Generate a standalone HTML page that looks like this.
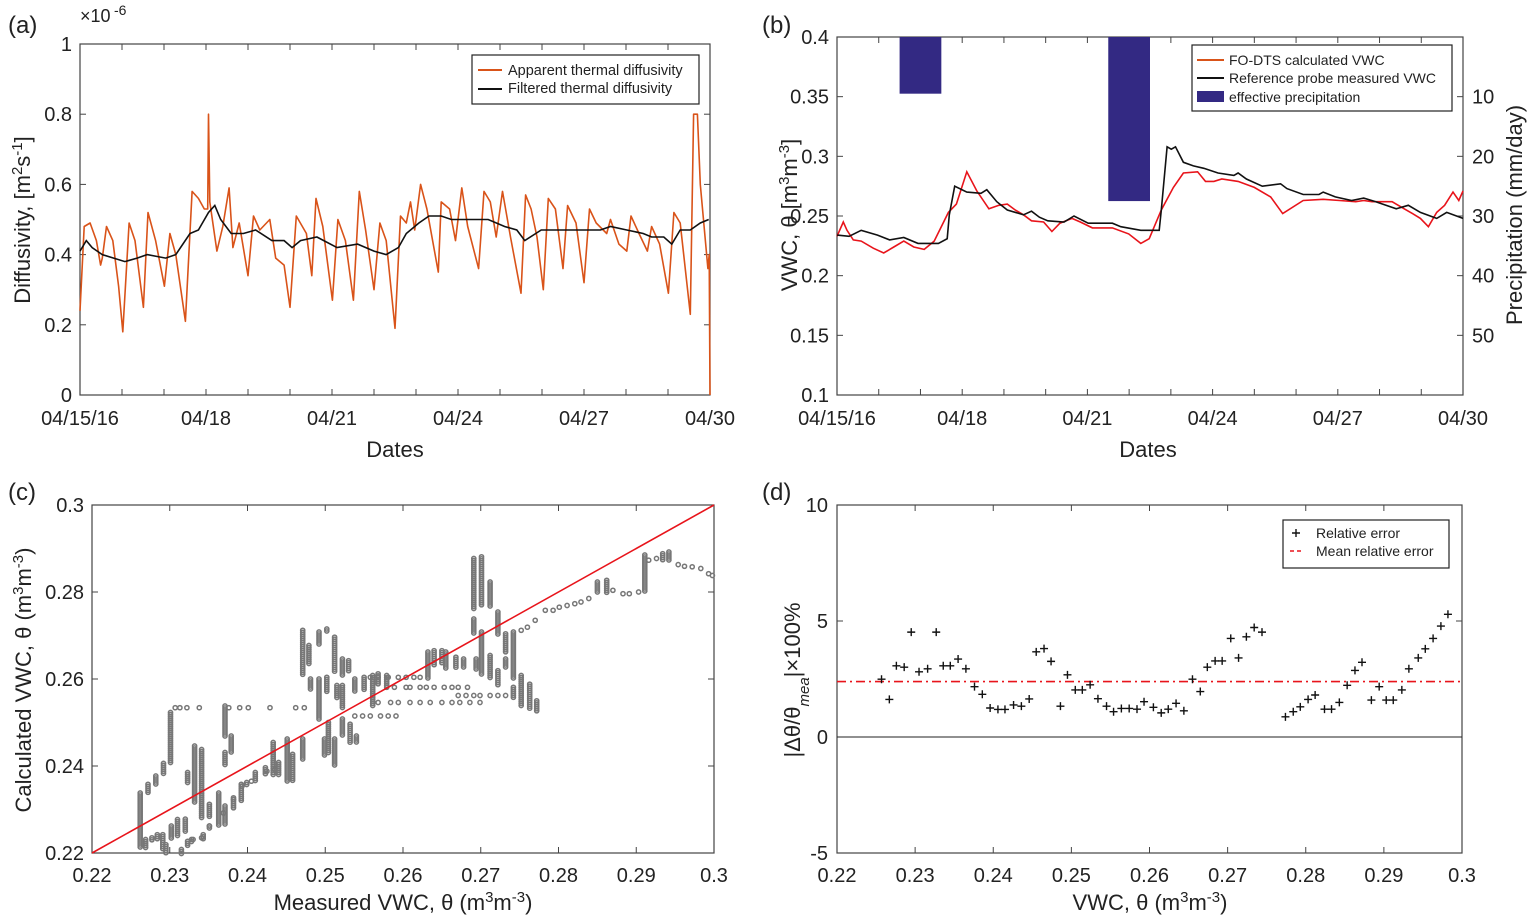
<!DOCTYPE html>
<html><head><meta charset="utf-8"><style>
html,body{margin:0;padding:0;background:#fff;}
svg{display:block;font-family:"Liberation Sans",Arial,sans-serif;}
</style></head><body>
<svg id="fig" width="1535" height="923" viewBox="0 0 1535 923" xmlns="http://www.w3.org/2000/svg">
<g id="gA"></g>
<g id="gB"></g>
<g id="gC"></g>
<g id="gD"></g>
</svg>
<script>
// ---------- Panel (a) data ----------
const aDaysApp=[0,0.10,0.24,0.39,0.49,0.53,0.63,0.78,0.92,1.02,1.17,1.31,1.51,1.62,1.80,2.01,2.14,2.28,2.51,2.67,2.82,2.96,3.04,3.06,3.09,3.26,3.40,3.55,3.64,3.79,4.00,4.13,4.28,4.52,4.66,4.86,5.00,5.15,5.39,5.52,5.62,5.78,6.01,6.14,6.32,6.51,6.65,6.80,7.00,7.14,7.29,7.50,7.63,7.77,7.87,7.97,8.11,8.26,8.53,8.60,8.80,8.94,9.09,9.23,9.49,9.62,9.77,9.91,10.06,10.25,10.50,10.61,10.74,10.88,11.03,11.15,11.32,11.50,11.61,11.81,12.00,12.13,12.29,12.54,12.63,12.83,13.02,13.12,13.31,13.51,13.61,13.80,14.01,14.14,14.29,14.53,14.61,14.70,14.77,14.95,14.98,15.0];
const aApparent=[0.24,0.48,0.49,0.44,0.37,0.39,0.48,0.44,0.31,0.18,0.49,0.44,0.25,0.52,0.44,0.31,0.46,0.40,0.21,0.58,0.56,0.53,0.53,0.80,0.55,0.41,0.48,0.59,0.42,0.49,0.34,0.51,0.47,0.50,0.39,0.37,0.25,0.51,0.46,0.34,0.56,0.48,0.27,0.50,0.44,0.27,0.58,0.47,0.30,0.49,0.44,0.19,0.51,0.49,0.55,0.47,0.60,0.53,0.35,0.55,0.53,0.44,0.59,0.48,0.36,0.58,0.55,0.45,0.58,0.45,0.29,0.57,0.53,0.45,0.30,0.56,0.53,0.36,0.54,0.49,0.32,0.53,0.49,0.46,0.50,0.43,0.41,0.51,0.46,0.41,0.48,0.43,0.29,0.52,0.49,0.23,0.80,0.80,0.60,0.36,0.40,0.0];
const aDaysFilt=[0,0.15,0.29,0.53,1.07,1.36,1.60,2.04,2.28,2.62,2.82,3.06,3.21,3.35,3.60,3.89,4.18,4.57,4.86,5.05,5.25,5.64,6.12,6.61,7.00,7.29,7.58,7.77,8.07,8.31,8.60,8.84,9.23,9.72,10.11,10.40,10.59,10.98,11.66,12.10,12.39,12.63,13.02,13.41,13.61,13.90,14.09,14.29,14.53,14.77,14.97];
const aFiltered=[0.41,0.44,0.42,0.40,0.38,0.39,0.40,0.39,0.40,0.46,0.47,0.52,0.54,0.50,0.46,0.46,0.47,0.44,0.44,0.42,0.44,0.45,0.42,0.43,0.41,0.40,0.42,0.46,0.49,0.51,0.51,0.50,0.50,0.50,0.48,0.47,0.44,0.47,0.47,0.47,0.47,0.48,0.47,0.46,0.45,0.45,0.43,0.47,0.47,0.49,0.50];
const aYTicks=[0,0.2,0.4,0.6,0.8,1];
const aYTickLabels=["0","0.2","0.4","0.6","0.8","1"];
const dateTicks=[0,3,6,9,12,15];
const dateTickLabels=["04/15/16","04/18","04/21","04/24","04/27","04/30"];

// ---------- Panel (b) data ----------
const bDaysFO=[0,0.15,0.24,0.39,0.58,0.87,1.12,1.36,1.60,1.84,2.09,2.33,2.67,2.86,3.11,3.35,3.64,3.88,4.08,4.27,4.47,4.66,4.95,5.15,5.34,5.63,5.83,6.12,6.60,6.99,7.28,7.48,7.77,8.06,8.30,8.64,8.83,9.03,9.22,9.61,10.0,10.39,10.68,11.17,11.65,12.04,12.43,12.62,12.82,13.30,13.59,13.79,13.98,14.17,14.37,14.56,14.76,14.90,15.0];
const bFO=[0.233,0.245,0.238,0.230,0.229,0.223,0.219,0.224,0.229,0.224,0.222,0.229,0.253,0.260,0.287,0.271,0.256,0.259,0.260,0.255,0.251,0.246,0.245,0.237,0.244,0.248,0.245,0.240,0.240,0.235,0.227,0.231,0.255,0.274,0.286,0.287,0.279,0.279,0.281,0.279,0.274,0.266,0.252,0.263,0.264,0.263,0.262,0.263,0.262,0.262,0.256,0.252,0.248,0.241,0.253,0.259,0.270,0.263,0.271];
const bDaysRef=[0,0.29,0.58,0.97,1.26,1.60,1.94,2.43,2.64,2.69,2.82,3.11,3.45,3.59,3.83,4.08,4.47,4.66,4.85,5.05,5.44,5.68,6.02,6.60,6.80,7.28,7.72,7.77,7.91,8.01,8.11,8.30,8.54,8.79,9.13,9.51,9.61,9.81,10.19,10.63,10.78,11.17,11.55,11.65,11.94,12.33,12.62,12.91,13.40,13.69,13.98,14.37,14.61,15.0];
const bRef=[0.234,0.233,0.238,0.234,0.230,0.232,0.227,0.227,0.231,0.251,0.275,0.270,0.269,0.272,0.262,0.255,0.251,0.254,0.249,0.246,0.245,0.250,0.244,0.244,0.241,0.238,0.238,0.255,0.308,0.306,0.308,0.295,0.292,0.290,0.286,0.284,0.286,0.281,0.275,0.277,0.273,0.268,0.268,0.270,0.266,0.263,0.265,0.262,0.256,0.259,0.253,0.248,0.253,0.248];
const precipStart=[1.5,6.5];
const precipEnd=[2.5,7.5];
const precipValue=[9.5,27.5];
const bYTicks=[0.1,0.15,0.2,0.25,0.3,0.35,0.4];
const bYTickLabels=["0.1","0.15","0.2","0.25","0.3","0.35","0.4"];
const bRTicks=[10,20,30,40,50];
const bRTickLabels=["10","20","30","40","50"];

// ---------- Panel (c) data ----------
const cRunX=[0.2262,0.2272,0.2282,0.2292,0.2301,0.2269,0.2277,0.2284,0.2291,0.2295,0.2302,0.2310,0.2315,0.2320,0.2323,0.2328,0.2323,0.2332,0.2341,0.2343,0.2351,0.2351,0.2363,0.2371,0.2371,0.2371,0.2379,0.2382,0.2392,0.2399,0.2410,0.2423,0.2433,0.2440,0.2451,0.2458,0.2471,0.2471,0.2479,0.2481,0.2492,0.2492,0.2499,0.2502,0.2502,0.2504,0.2512,0.2512,0.2515,0.2522,0.2522,0.2522,0.2530,0.2532,0.2538,0.2540,0.2550,0.2561,0.2568,0.2579,0.2632,0.2640,0.2650,0.2655,0.2668,0.2678,0.2691,0.2691,0.2694,0.2701,0.2701,0.2712,0.2712,0.2722,0.2722,0.2732,0.2732,0.2742,0.2742,0.2752,0.2763,0.2772,0.2850,0.2862,0.2911,0.2934,0.2942];
const cRunLow=[0.2212,0.2338,0.2358,0.2381,0.2408,0.2212,0.2227,0.2231,0.2208,0.2200,0.2231,0.2238,0.2196,0.2250,0.2215,0.2223,0.2358,0.2315,0.2281,0.2231,0.2281,0.2254,0.2262,0.2469,0.2400,0.2265,0.2431,0.2300,0.2319,0.2354,0.2365,0.2381,0.2377,0.2377,0.2362,0.2365,0.2608,0.2415,0.2635,0.2573,0.2677,0.2508,0.2423,0.2708,0.2569,0.2431,0.2615,0.2400,0.2554,0.2608,0.2531,0.2469,0.2619,0.2454,0.2569,0.2454,0.2573,0.2538,0.2585,0.2585,0.2600,0.2631,0.2635,0.2623,0.2627,0.2627,0.2762,0.2704,0.2623,0.2769,0.2608,0.2765,0.2600,0.2700,0.2585,0.2662,0.2627,0.2600,0.2554,0.2538,0.2531,0.2527,0.2798,0.2798,0.2798,0.2873,0.2873];
const cRunHigh=[0.2338,0.2358,0.2377,0.2406,0.2523,0.2231,0.2235,0.2242,0.2242,0.2219,0.2262,0.2277,0.2208,0.2278,0.2227,0.2231,0.2385,0.2446,0.2438,0.2242,0.2312,0.2262,0.2338,0.2538,0.2431,0.2308,0.2469,0.2327,0.2358,0.2362,0.2385,0.2396,0.2454,0.2408,0.2462,0.2427,0.2712,0.2462,0.2677,0.2600,0.2708,0.2600,0.2462,0.2715,0.2604,0.2500,0.2696,0.2462,0.2585,0.2646,0.2585,0.2508,0.2642,0.2496,0.2600,0.2469,0.2604,0.2608,0.2612,0.2608,0.2662,0.2665,0.2665,0.2662,0.2650,0.2646,0.2877,0.2738,0.2646,0.2881,0.2708,0.2823,0.2654,0.2754,0.2619,0.2704,0.2646,0.2708,0.2581,0.2608,0.2588,0.2550,0.2823,0.2827,0.2885,0.2888,0.2892];
const cPtX=[0.2307,0.2313,0.2322,0.2338,0.2376,0.2390,0.2401,0.2429,0.2462,0.2473,0.2558,0.2568,0.2581,0.2594,0.2604,0.2614,0.2622,0.2579,0.2589,0.2604,0.2609,0.2622,0.2630,0.2640,0.2653,0.2663,0.2671,0.2683,0.2671,0.2681,0.2691,0.2699,0.2712,0.2722,0.2732,0.2568,0.2584,0.2594,0.2609,0.2622,0.2635,0.2650,0.2663,0.2673,0.2686,0.2699,0.2538,0.2548,0.2558,0.2571,0.2581,0.2591,0.2752,0.2760,0.2770,0.2783,0.2793,0.2801,0.2811,0.2821,0.2829,0.2839,0.2870,0.2883,0.2891,0.2903,0.2916,0.2926,0.2954,0.2962,0.2972,0.2983,0.2993,0.2998,0.2330,0.2341,0.2351,0.2369,0.2382,0.2393,0.2405,0.2425,0.2435];
const cPtY=[0.2534,0.2534,0.2534,0.2534,0.2534,0.2534,0.2534,0.2534,0.2534,0.2534,0.2604,0.2604,0.2604,0.2604,0.2604,0.2604,0.2604,0.2581,0.2581,0.2581,0.2581,0.2581,0.2581,0.2581,0.2581,0.2581,0.2581,0.2581,0.2562,0.2562,0.2562,0.2562,0.2562,0.2562,0.2562,0.2546,0.2546,0.2546,0.2546,0.2546,0.2546,0.2546,0.2546,0.2546,0.2546,0.2546,0.2515,0.2515,0.2515,0.2515,0.2515,0.2515,0.2712,0.2719,0.2735,0.2758,0.2758,0.2765,0.2769,0.2773,0.2777,0.2785,0.2804,0.2796,0.2796,0.2800,0.2873,0.2877,0.2863,0.2859,0.2858,0.2854,0.2842,0.2838,0.2231,0.2235,0.2262,0.2292,0.2323,0.2354,0.2365,0.2388,0.2392];
const cTicksX=[0.22,0.23,0.24,0.25,0.26,0.27,0.28,0.29,0.3];
const cTickLabelsX=["0.22","0.23","0.24","0.25","0.26","0.27","0.28","0.29","0.3"];
const cTicksY=[0.22,0.24,0.26,0.28,0.3];
const cTickLabelsY=["0.22","0.24","0.26","0.28","0.3"];

// ---------- Panel (d) data ----------
const dVWC=[0.2257,0.2267,0.2276,0.2286,0.2295,0.2305,0.2316,0.2327,0.2336,0.2345,0.2355,0.2365,0.2376,0.2386,0.2396,0.2406,0.2415,0.2426,0.2436,0.2446,0.2455,0.2465,0.2474,0.2486,0.2495,0.2505,0.2514,0.2524,0.2534,0.2545,0.2554,0.2564,0.2574,0.2584,0.2593,0.2605,0.2615,0.2624,0.2634,0.2644,0.2655,0.2665,0.2674,0.2684,0.2693,0.2704,0.2714,0.2724,0.2734,0.2744,0.2774,0.2784,0.2793,0.2803,0.2812,0.2824,0.2833,0.2843,0.2853,0.2863,0.2872,0.2884,0.2894,0.2903,0.2912,0.2923,0.2932,0.2944,0.2953,0.2963,0.2973,0.2982];
const dErr=[2.49,1.62,3.07,3.01,4.52,2.81,2.94,4.52,3.07,3.07,3.36,2.94,2.17,1.84,1.25,1.19,1.19,1.38,1.33,1.64,3.67,3.81,3.26,1.33,2.68,2.03,2.03,2.25,1.65,1.33,1.09,1.23,1.23,1.20,1.52,1.28,1.04,1.20,1.45,1.13,2.49,1.96,3.01,3.28,3.28,4.25,3.41,4.32,4.72,4.52,0.87,1.09,1.30,1.62,1.81,1.20,1.20,1.49,2.23,2.87,3.22,1.59,2.17,1.59,1.59,2.03,2.94,3.41,3.80,4.25,4.78,5.29];
const dMean=[2.39];
const dTicksY=[-5,0,5,10];
const dTickLabelsY=["-5","0","5","10"];

// ---------- helpers ----------
const NS="http://www.w3.org/2000/svg";
function mk(parent,tag,attrs,text){const e=document.createElementNS(NS,tag);for(const k in attrs)e.setAttribute(k,attrs[k]);if(text!==undefined)e.textContent=text;parent.appendChild(e);return e;}
function lin(d0,d1,r0,r1){return v=>r0+(v-d0)/(d1-d0)*(r1-r0);}
function pathFrom(xs,ys,sx,sy){return xs.map((x,i)=>(i?"L":"M")+sx(x).toFixed(1)+","+sy(ys[i]).toFixed(1)).join("");}
function frame(g,x0,y0,x1,y1,xt,yt,rt){
  const f=mk(g,"rect",{x:x0,y:y0,width:x1-x0,height:y1-y0,fill:"none",stroke:"#444","stroke-width":1.2});
  
  
  xt.forEach(x=>{mk(g,"line",{x1:x,y1:y1,x2:x,y2:y1-6,stroke:"#444"});mk(g,"line",{x1:x,y1:y0,x2:x,y2:y0+6,stroke:"#444"});});
  yt.forEach(y=>{mk(g,"line",{x1:x0,y1:y,x2:x0+6,y2:y,stroke:"#444"});if(!rt)mk(g,"line",{x1:x1,y1:y,x2:x1-6,y2:y,stroke:"#444"});});
  if(rt)rt.forEach(y=>mk(g,"line",{x1:x1,y1:y,x2:x1-6,y2:y,stroke:"#444"}));
}
function txt(g,x,y,s,size,anchor,name,extra){const t=mk(g,"text",Object.assign({x:x,y:y,"font-size":size,"text-anchor":anchor||"middle",fill:"#222"},extra||{}),s);return t;}

// ---------- Panel A ----------
(function(){
const g=document.getElementById("gA");
const X0=80,X1=710,Y0=44,Y1=395;
const sx=lin(0,15,X0,X1), sy=lin(0,1,Y1,Y0);
const days=[];for(let d=0;d<=15;d++)days.push(d);
frame(g,X0,Y0,X1,Y1,days.map(sx),aYTicks.map(sy));
const p1=mk(g,"path",{d:pathFrom(aDaysApp,aApparent,sx,sy),fill:"none",stroke:"#D95319","stroke-width":1.6,"stroke-linejoin":"round"});


const p2=mk(g,"path",{d:pathFrom(aDaysFilt,aFiltered,sx,sy),fill:"none",stroke:"#111","stroke-width":1.6});


aYTicks.forEach((v,i)=>txt(g,72,sy(v)+7,aYTickLabels[i],20,"end","y-tick-label"));
dateTicks.forEach((v,i)=>txt(g,sx(v),425,dateTickLabels[i],20,"middle","x-tick-label"));
txt(g,8,33,"(a)",24,"start","panel-label");
txt(g,80,22,"×10",18,"start","y-exponent");
txt(g,114,15,"-6",14,"start","y-exponent-power");
txt(g,395,457,"Dates",22,"middle","x-axis-title");
const yt=txt(g,0,0,"",22,"middle","y-axis-title",{transform:"translate(30,220) rotate(-90)"});
yt.innerHTML='Diffusivity, [m<tspan baseline-shift="super" font-size="15">2</tspan>s<tspan baseline-shift="super" font-size="15">-1</tspan>]';
const lg=mk(g,"g",{});


mk(lg,"rect",{x:472,y:55,width:227,height:49,fill:"#fff",stroke:"#222","stroke-width":1.2});
mk(lg,"line",{x1:478,y1:70,x2:502,y2:70,stroke:"#D95319","stroke-width":2});
mk(lg,"line",{x1:478,y1:89,x2:502,y2:89,stroke:"#111","stroke-width":2});
txt(lg,508,75,"Apparent thermal diffusivity",14.5,"start","legend-entry-apparent");
txt(lg,508,93,"Filtered thermal diffusivity",14.5,"start","legend-entry-filtered");
})();

// ---------- Panel B ----------
(function(){
const g=document.getElementById("gB");
const X0=837,X1=1463,Y0=37,Y1=395;
const sx=lin(0,15,X0,X1), sy=lin(0.1,0.4,Y1,Y0), sr=lin(0,60,Y0,Y1);
const days=[];for(let d=0;d<=15;d++)days.push(d);
frame(g,X0,Y0,X1,Y1,days.map(sx),bYTicks.map(sy),bRTicks.map(sr));
precipValue.forEach((v,i)=>{
  const r=mk(g,"rect",{x:sx(precipStart[i]),y:Y0,width:sx(precipEnd[i])-sx(precipStart[i]),height:sr(v)-Y0,fill:"#332983"});
  
  
});
const p1=mk(g,"path",{d:pathFrom(bDaysFO,bFO,sx,sy),fill:"none",stroke:"#E8141B","stroke-width":1.6});


const p2=mk(g,"path",{d:pathFrom(bDaysRef,bRef,sx,sy),fill:"none",stroke:"#111","stroke-width":1.6});


bYTicks.forEach((v,i)=>txt(g,829,sy(v)+7,bYTickLabels[i],20,"end","y-tick-label"));
bRTicks.forEach((v,i)=>txt(g,1472,sr(v)+7,bRTickLabels[i],20,"start","right-tick-label"));
dateTicks.forEach((v,i)=>txt(g,sx(v),425,dateTickLabels[i],20,"middle","x-tick-label"));
txt(g,762,33,"(b)",24,"start","panel-label");
txt(g,1148,457,"Dates",22,"middle","x-axis-title");
const yt=txt(g,0,0,"",22,"middle","y-axis-title",{transform:"translate(797,215) rotate(-90)"});
yt.innerHTML='VWC, θ [m<tspan baseline-shift="super" font-size="15">3</tspan>m<tspan baseline-shift="super" font-size="15">-3</tspan>]';
txt(g,0,0,"Precipitation (mm/day)",22,"middle","right-axis-title",{transform:"translate(1522,215) rotate(-90)"});
const lg=mk(g,"g",{});


mk(lg,"rect",{x:1192,y:45,width:260,height:66,fill:"#fff",stroke:"#222","stroke-width":1.2});
mk(lg,"line",{x1:1197,y1:60,x2:1224,y2:60,stroke:"#D95319","stroke-width":2});
mk(lg,"line",{x1:1197,y1:78,x2:1224,y2:78,stroke:"#111","stroke-width":2});
mk(lg,"rect",{x:1197,y:91,width:27,height:11,fill:"#332983"});
txt(lg,1229,65,"FO-DTS calculated VWC",14,"start","legend-entry-fo-dts");
txt(lg,1229,83,"Reference probe measured VWC",14,"start","legend-entry-reference");
txt(lg,1229,102,"effective precipitation",14,"start","legend-entry-precip");
})();

// ---------- Panel C ----------
(function(){
const g=document.getElementById("gC");
const X0=92,X1=714,Y0=505,Y1=853;
const sx=lin(0.22,0.3,X0,X1), sy=lin(0.22,0.3,Y1,Y0);
frame(g,X0,Y0,X1,Y1,cTicksX.map(sx),cTicksY.map(sy));
const pts=mk(g,"g",{fill:"none",stroke:"#777","stroke-width":1.5});


cRunX.forEach((x,i)=>{
  const ya=sy(cRunHigh[i]), yb=sy(cRunLow[i]);
  for(let y=ya;y<=yb+0.1;y+=2.0){const c=mk(pts,"circle",{cx:sx(x).toFixed(1),cy:y.toFixed(1),r:2.1});
  
  }
});
cPtX.forEach((x,i)=>{const c=mk(pts,"circle",{cx:sx(x).toFixed(1),cy:sy(cPtY[i]).toFixed(1),r:2.1});
  
  });
const l=mk(g,"line",{x1:sx(0.22),y1:sy(0.22),x2:sx(0.3),y2:sy(0.3),stroke:"#E8141B","stroke-width":1.6});


cTicksY.forEach((v,i)=>txt(g,84,sy(v)+7,cTickLabelsY[i],20,"end","y-tick-label"));
cTicksX.forEach((v,i)=>txt(g,sx(v),882,cTickLabelsX[i],20,"middle","x-tick-label"));
txt(g,8,500,"(c)",24,"start","panel-label");
const xt=txt(g,403,910,"",22,"middle","x-axis-title");
xt.innerHTML='Measured VWC, θ (m<tspan baseline-shift="super" font-size="15">3</tspan>m<tspan baseline-shift="super" font-size="15">-3</tspan>)';
const yt=txt(g,0,0,"",22,"middle","y-axis-title",{transform:"translate(31,680) rotate(-90)"});
yt.innerHTML='Calculated VWC, θ (m<tspan baseline-shift="super" font-size="15">3</tspan>m<tspan baseline-shift="super" font-size="15">-3</tspan>)';
})();

// ---------- Panel D ----------
(function(){
const g=document.getElementById("gD");
const X0=837,X1=1462,Y0=505,Y1=853;
const sx=lin(0.22,0.3,X0,X1), sy=lin(-5,10,Y1,Y0);
frame(g,X0,Y0,X1,Y1,cTicksX.map(sx),dTicksY.map(sy));
const z=mk(g,"line",{x1:X0,y1:sy(0),x2:X1,y2:sy(0),stroke:"#222","stroke-width":1});


const m=mk(g,"line",{x1:X0,y1:sy(dMean[0]),x2:X1,y2:sy(dMean[0]),stroke:"#E8141B","stroke-width":1.6,"stroke-dasharray":"9,4,2,4"});


const pg=mk(g,"g",{stroke:"#111","stroke-width":1.4});


dVWC.forEach((x,i)=>{const cx=sx(x),cy=sy(dErr[i]);
  const p=mk(pg,"path",{d:`M${cx-4},${cy}H${cx+4}M${cx},${cy-4}V${cy+4}`});
  
  });
dTicksY.forEach((v,i)=>txt(g,828,sy(v)+7,dTickLabelsY[i],20,"end","y-tick-label"));
cTicksX.forEach((v,i)=>txt(g,sx(v),882,cTickLabelsX[i],20,"middle","x-tick-label"));
txt(g,762,500,"(d)",24,"start","panel-label");
const xt=txt(g,1150,910,"",22,"middle","x-axis-title");
xt.innerHTML='VWC, θ (m<tspan baseline-shift="super" font-size="15">3</tspan>m<tspan baseline-shift="super" font-size="15">-3</tspan>)';
const yt=txt(g,0,0,"",22,"middle","y-axis-title",{transform:"translate(800,680) rotate(-90)"});
yt.innerHTML='|Δθ/θ<tspan baseline-shift="sub" font-size="15" font-style="italic">mea</tspan>|×100%';
const lg=mk(g,"g",{});


mk(lg,"rect",{x:1283,y:520,width:166,height:48,fill:"#fff",stroke:"#222","stroke-width":1.2});
mk(lg,"path",{d:"M1292,533H1300M1296,529V537",stroke:"#111","stroke-width":1.4});
mk(lg,"line",{x1:1290,y1:551,x2:1304,y2:551,stroke:"#E8141B","stroke-width":1.6,"stroke-dasharray":"4,3"});
txt(lg,1316,538,"Relative error",14,"start","legend-entry-relative-error");
txt(lg,1316,556,"Mean relative error",14,"start","legend-entry-mean-error");
})();
</script>
</body></html>
